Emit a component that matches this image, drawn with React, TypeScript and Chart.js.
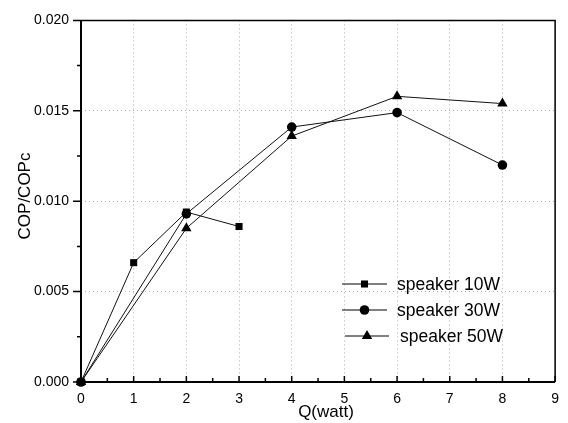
import React, { useEffect, useRef } from 'react';
import { Chart, registerables } from 'chart.js';

Chart.register(...registerables);

const seriesLabels = ['speaker 10W', 'speaker 30W', 'speaker 50W'];
const q10 = [0, 1, 2, 3];
const cop10 = [0, 0.0066, 0.0094, 0.0086];
const q30 = [0, 2, 4, 6, 8];
const cop30 = [0, 0.0093, 0.0141, 0.0149, 0.012];
const q50 = [0, 2, 4, 6, 8];
const cop50 = [0, 0.0085, 0.0136, 0.0158, 0.0154];
const pointStyles = ['rect', 'circle', 'triangle'];
const pointRadii = [5, 4.8, 6];

const xTitle = 'Q(watt)';
const yTitle = 'COP/COPc';
const X_MIN = 0, X_MAX = 9, X_STEP = 1;
const Y_MIN = 0, Y_MAX = 0.02, Y_STEP = 0.005;

const FONT = '"Liberation Sans", Arial, sans-serif';

function drawMarker(ctx: CanvasRenderingContext2D, style: string, x: number, y: number, r: number) {
  ctx.beginPath();
  if (style === 'rect') {
    const s = Math.SQRT1_2 * r;
    ctx.rect(x - s, y - s, 2 * s, 2 * s);
  } else if (style === 'circle') {
    ctx.arc(x, y, r, 0, Math.PI * 2);
  } else {
    let rad = 0;
    ctx.moveTo(x + Math.sin(rad) * r, y - Math.cos(rad) * r);
    rad += (2 * Math.PI) / 3;
    ctx.lineTo(x + Math.sin(rad) * r, y - Math.cos(rad) * r);
    rad += (2 * Math.PI) / 3;
    ctx.lineTo(x + Math.sin(rad) * r, y - Math.cos(rad) * r);
    ctx.closePath();
  }
  ctx.fill();
}

const framePlugin = {
  id: 'frameDecor',
  afterDraw(chart: any) {
    const ctx: CanvasRenderingContext2D = chart.ctx;
    const { left, right, top, bottom } = chart.chartArea;
    const xs = chart.scales.x;
    const ys = chart.scales.y;
    ctx.save();
    ctx.strokeStyle = '#000';
    ctx.setLineDash([]);
    // frame
    ctx.lineWidth = 1.5;
    ctx.beginPath();
    ctx.moveTo(left, top); ctx.lineTo(right, top); ctx.lineTo(right, bottom);
    ctx.stroke();
    ctx.lineWidth = 2;
    ctx.beginPath();
    ctx.moveTo(left, top); ctx.lineTo(left, bottom); ctx.lineTo(right, bottom);
    ctx.stroke();
    // ticks
    ctx.lineWidth = 1.5;
    ctx.beginPath();
    for (let v = X_MIN; v <= X_MAX + 1e-9; v += X_STEP / 2) {
      const px = xs.getPixelForValue(v);
      const major = Math.abs(v - Math.round(v)) < 1e-9;
      const len = major ? 6 : 4;
      ctx.moveTo(px, bottom);
      ctx.lineTo(px, bottom - len);
    }
    for (let i = 0; i <= 8; i++) {
      const v = Y_MIN + (i * Y_STEP) / 2;
      const py = ys.getPixelForValue(v);
      const len = i % 2 === 0 ? 8 : 4;
      ctx.moveTo(left, py);
      ctx.lineTo(left - len, py);
    }
    ctx.stroke();
    // axis titles
    ctx.fillStyle = '#000';
    ctx.font = `17px ${FONT}`;
    ctx.textAlign = 'center';
    ctx.textBaseline = 'middle';
    ctx.fillText(xTitle, 326, 412);
    ctx.save();
    ctx.translate(25, 196);
    ctx.rotate(-Math.PI / 2);
    ctx.fillText(yTitle, 0, 0);
    ctx.restore();
    // legend
    const rowsY = [284, 310, 336];
    const lineX0 = [342, 342, 345];
    const lineX1 = [387, 387, 389];
    const textX = [397, 397, 400];
    ctx.font = `17.5px ${FONT}`;
    ctx.textAlign = 'left';
    ctx.lineWidth = 1;
    chart.data.datasets.forEach((ds: any, i: number) => {
      const y = rowsY[i];
      ctx.strokeStyle = '#000';
      ctx.beginPath();
      ctx.moveTo(lineX0[i], y);
      ctx.lineTo(lineX1[i], y);
      ctx.stroke();
      ctx.fillStyle = '#000';
      drawMarker(ctx, pointStyles[i], (lineX0[i] + lineX1[i]) / 2, y, pointRadii[i]);
      ctx.fillText(ds.label, textX[i], y + 1);
    });
    ctx.restore();
  },
};

function toPts(xs: number[], ys: number[]) {
  return xs.map((x, i) => ({ x, y: ys[i] }));
}

export default function App() {
  const ref = useRef<HTMLCanvasElement | null>(null);
  useEffect(() => {
    if (!ref.current) return;
    const allX = [q10, q30, q50];
    const allY = [cop10, cop30, cop50];
    const chart = new Chart(ref.current, {
      type: 'line',
      data: {
        datasets: seriesLabels.map((label, i) => ({
          label,
          data: toPts(allX[i], allY[i]),
          borderColor: '#111',
          backgroundColor: '#000',
          borderWidth: 1,
          pointStyle: pointStyles[i] as any,
          pointRadius: pointRadii[i],
          pointBackgroundColor: '#000',
          pointBorderColor: '#000',
          pointBorderWidth: 0,
          tension: 0,
          clip: false as any,
        })),
      },
      options: {
        animation: false,
        responsive: true,
        maintainAspectRatio: false,
        layout: { padding: { top: 16, right: 8, left: 0, bottom: 0 } },
        plugins: {
          legend: { display: false },
          tooltip: { enabled: false },
          title: { display: false },
        },
        scales: {
          x: {
            type: 'linear',
            min: X_MIN,
            max: X_MAX,
            ticks: {
              stepSize: X_STEP,
              color: '#000',
              font: { family: FONT, size: 14 },
              padding: 9,
              callback: (v: any) => String(v),
            },
            grid: {
              color: '#b0b0b0',
              lineWidth: 1,
              drawTicks: false,
            },
            border: { display: false, dash: [1, 3] },
            afterFit: (s: any) => { s.height = 41; },
          },
          y: {
            type: 'linear',
            min: Y_MIN,
            max: Y_MAX,
            ticks: {
              stepSize: Y_STEP,
              color: '#000',
              font: { family: FONT, size: 14 },
              padding: 12,
              callback: (v: any) => Number(v).toFixed(3),
            },
            grid: {
              color: '#b0b0b0',
              lineWidth: 1,
              drawTicks: false,
            },
            border: { display: false, dash: [1, 3] },
            afterFit: (s: any) => { s.width = 81; },
          },
        },
      },
      plugins: [framePlugin],
    } as any);
    return () => chart.destroy();
  }, []);
  return (
    <div style={{ position: 'fixed', left: 0, top: 0, width: 568, height: 423, background: '#fff' }}>
      <canvas ref={ref} />
    </div>
  );
}
